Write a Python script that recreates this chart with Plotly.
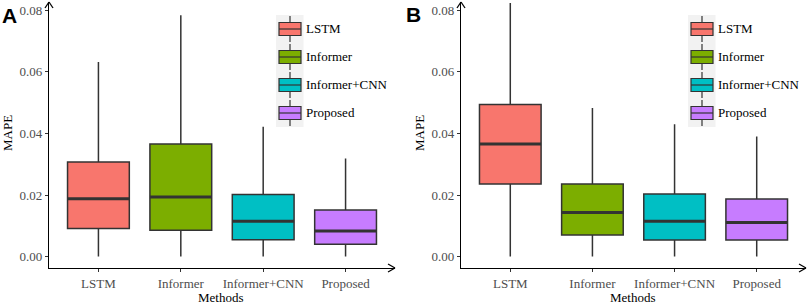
import plotly.graph_objects as go

methods = ["LSTM", "Informer", "Informer+CNN", "Proposed"]
colors = ["#F8766D", "#7CAE00", "#00BFC4", "#C77CFF"]

# Panel A statistics
a_low = [0.0, 0.0, 0.0, 0.0]
a_q1 = [0.0091, 0.0086, 0.0055, 0.0040]
a_med = [0.0188, 0.0194, 0.0115, 0.0083]
a_q3 = [0.0307, 0.0366, 0.0202, 0.0151]
a_high = [0.0632, 0.0784, 0.0422, 0.0319]

# Panel B statistics
b_low = [0.0, 0.0, 0.0, 0.0]
b_q1 = [0.0236, 0.0070, 0.0054, 0.0054]
b_med = [0.0366, 0.0143, 0.0115, 0.0111]
b_q3 = [0.0494, 0.0236, 0.0203, 0.0187]
b_high = [0.0824, 0.0483, 0.0430, 0.0390]

y_ticks = [0.0, 0.02, 0.04, 0.06, 0.08]

W, H = 809, 304
ML, MR, MT, MB = 49, 3, 2, 36
PW = W - ML - MR
PH = H - MT - MB


def px(x):
    return (x - ML) / PW


def py(y):
    return (H - MB - y) / PH


BOX_W = 0.75
EDGE = "#333333"

fig = go.Figure()
panels = [
    ("x", "y", a_low, a_q1, a_med, a_q3, a_high),
    ("x2", "y2", b_low, b_q1, b_med, b_q3, b_high),
]
for xa, ya, lo, q1, md, q3, hi in panels:
    for i, m in enumerate(methods):
        fig.add_trace(go.Box(
            x=[i], q1=[q1[i]], median=[md[i]], q3=[q3[i]],
            lowerfence=[lo[i]], upperfence=[hi[i]],
            width=BOX_W, whiskerwidth=0, fillcolor=colors[i],
            line=dict(color=EDGE, width=1.5), boxpoints=False,
            name=m, showlegend=False, xaxis=xa, yaxis=ya, hoverinfo="skip",
        ))
        fig.add_trace(go.Scatter(
            x=[i - BOX_W / 2, i + BOX_W / 2], y=[md[i], md[i]],
            mode="lines", line=dict(color=EDGE, width=3),
            showlegend=False, xaxis=xa, yaxis=ya, hoverinfo="skip",
        ))

serif = "Liberation Serif, Times New Roman, serif"
tickfont = dict(family=serif, size=13, color="#4D4D4D")
xcommon = dict(
    range=[-0.6, 3.6], tickmode="array", tickvals=list(range(len(methods))),
    ticktext=methods, showline=True, linecolor="black", linewidth=1.3,
    ticks="outside", ticklen=3, tickcolor="#333333", tickwidth=1,
    showgrid=False, zeroline=False, tickfont=tickfont,
)
ycommon = dict(
    range=[-0.0037, -0.0037 + PH / 3079.0], tickmode="array", tickvals=y_ticks,
    ticktext=["%.2f" % v for v in y_ticks], showline=True, linecolor="black",
    linewidth=1.3, ticks="outside", ticklen=3, tickcolor="#333333", tickwidth=1,
    showgrid=False, zeroline=False, tickfont=tickfont,
)
fig.update_layout(
    xaxis=dict(domain=[0, px(395)], anchor="y", **xcommon),
    xaxis2=dict(domain=[px(461), 1], anchor="y2", **xcommon),
    yaxis=dict(anchor="x", **ycommon),
    yaxis2=dict(anchor="x2", **ycommon),
    width=W, height=H,
    margin=dict(l=ML, r=MR, t=MT, b=MB),
    plot_bgcolor="white", paper_bgcolor="white",
    showlegend=False,
)

shapes = []
annotations = []


def ann(text, x, y, size=13, family=serif, xanchor="center", angle=0, color="black"):
    annotations.append(dict(text=text, xref="paper", yref="paper", x=px(x), y=py(y),
                            xanchor=xanchor, yanchor="middle", textangle=angle,
                            showarrow=False, font=dict(family=family, size=size, color=color)))


for off, letter, lx, ly in [(0, "A", 9.5, 15), (412, "B", 413, 14)]:
    x0 = 49 + off
    xe = 395 if off == 0 else 806
    line = dict(color="black", width=1.3)
    shapes.append(dict(type="line", xref="paper", yref="paper", x0=px(x0 - 4), y0=py(8), x1=px(x0), y1=py(2), line=line))
    shapes.append(dict(type="line", xref="paper", yref="paper", x0=px(x0 + 4), y0=py(8), x1=px(x0), y1=py(2), line=line))
    shapes.append(dict(type="line", xref="paper", yref="paper", x0=px(xe - 7), y0=py(264), x1=px(xe), y1=py(268), line=line))
    shapes.append(dict(type="line", xref="paper", yref="paper", x0=px(xe - 7), y0=py(272), x1=px(xe), y1=py(268), line=line))
    ann("MAPE", 8 + off, 133, angle=-90)
    ann("Methods", 221 + off, 297)
    ann("<b>%s</b>" % letter, lx, ly, size=21, family="Liberation Sans, Arial, sans-serif")
    # legend
    lx0, lx1 = 276 + off, 303.5 + off
    shapes.append(dict(type="rect", xref="paper", yref="paper", x0=px(lx0), x1=px(lx1), y0=py(15), y1=py(127),
                       line=dict(width=0), fillcolor="#F2F2F2", layer="below"))
    cx = 290 + off
    for i, m in enumerate(methods):
        cy = 29 + 28 * i
        shapes.append(dict(type="line", xref="paper", yref="paper", x0=px(cx), x1=px(cx), y0=py(cy - 13), y1=py(cy + 13),
                           line=dict(color=EDGE, width=1.2)))
        shapes.append(dict(type="rect", xref="paper", yref="paper", x0=px(cx - 11), x1=px(cx + 11), y0=py(cy - 6.5), y1=py(cy + 6.5),
                           line=dict(color=EDGE, width=1.2), fillcolor=colors[i]))
        shapes.append(dict(type="line", xref="paper", yref="paper", x0=px(cx - 11), x1=px(cx + 11), y0=py(cy), y1=py(cy),
                           line=dict(color=EDGE, width=1.2)))
        ann(m, 304 + off, cy, xanchor="left")

fig.update_layout(shapes=shapes, annotations=annotations)
fig.write_html("out.html", config={"displayModeBar": False},
               post_script="document.body.style.margin='0';document.body.style.padding='0';")
